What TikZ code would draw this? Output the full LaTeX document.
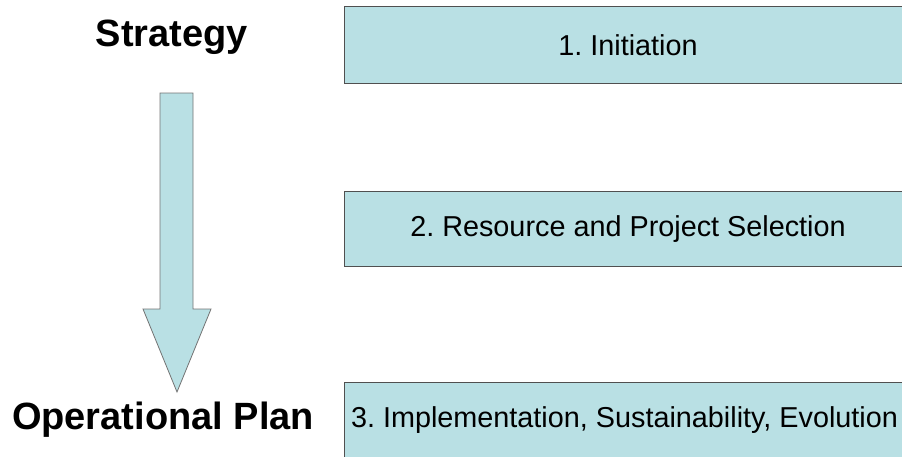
\documentclass[tikz,border=0pt]{standalone}
\usepackage{fontspec}
\setmainfont{Liberation Sans}
\definecolor{stepblue}{RGB}{185,224,228}
\definecolor{stepline}{RGB}{80,80,80}
\tikzset{
  stagebox/.style={draw=stepline, fill=stepblue, line width=1pt},
  stagetext/.style={font=\fontsize{28.8}{33}\selectfont},
  sidetext/.style={font=\fontsize{38}{44}\selectfont\bfseries}
}
\begin{document}
\frenchspacing
\begin{tikzpicture}[x=1pt,y=-1pt]
                \useasboundingbox (0,0) rectangle (902,456);
                \clip (0,0) rectangle (902,456);

                \filldraw[stagebox] (344,6) rectangle (914,83);
                \filldraw[stagebox] (344,191) rectangle (914,266);
                \filldraw[stagebox] (344,382) rectangle (914,460);

                \filldraw[stagebox, line width=0.8pt, draw=stepline!80]
                    (160,93) -- (193,93) -- (193,309) -- (211,309)
                    -- (177,392) -- (143,309) -- (160,309) -- cycle;


                \node[sidetext] (strategy) at (172,37) {Strategy};
                \node[sidetext] (oplan) at (163,420) {Operational Plan};
                \node[stagetext] (initiation) at (628,45) {1. Initiation};
                \node[stagetext] (selection) at (628,229) {2. Resource and Project Selection};
                \node[stagetext] (implementation) at (624.5,420) {3. Implementation, Sustainability, Evolution};




            \end{tikzpicture}
\end{document}
